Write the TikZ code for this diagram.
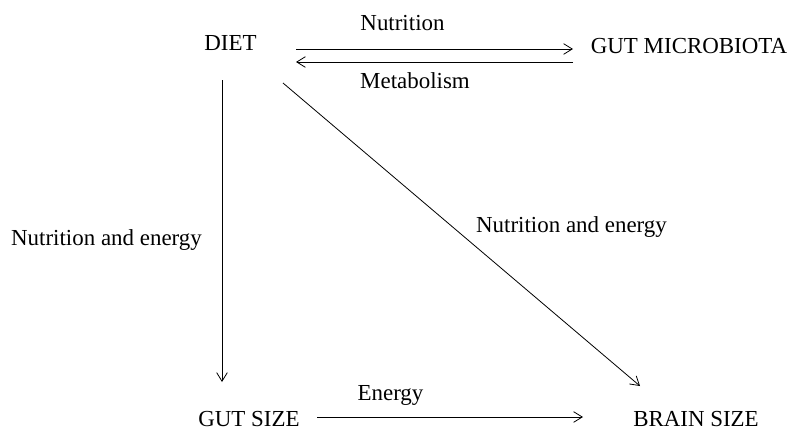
\documentclass[tikz,border=0pt]{standalone}
\usepackage{fontspec}
\setmainfont{Liberation Serif}
\usepackage{tikz}
\usetikzlibrary{arrows.meta,positioning,calc}
\tikzset{
    termo/.style={
        anchor=base,
        inner sep=0pt,
        font=\fontsize{17.2}{20}\selectfont
    },
    rotulo/.style={termo},
    ligacao/.style={-{Straight Barb[length=6.5pt,width=8pt]}, line width=0.6pt}
}

\begin{document}
\begin{tikzpicture}[x=0.75pt, y=-0.75pt]
        \useasboundingbox (0,0) rectangle (792,430);
        \node[termo] (diet) at (230.5,50) {DIET};
        \node[termo] (microbiota) at (689,53) {GUT MICROBIOTA};
        \node[termo] (gutsize) at (249,426) {GUT SIZE};
        \node[termo] (brainsize) at (696,426) {BRAIN SIZE};

        \node[rotulo] (nutricao) at (402.5,30) {Nutrition};
        \node[rotulo] (metabolismo) at (415,88) {Metabolism};
        \node[rotulo] (energiaEsq) at (106.5,245) {Nutrition and energy};
        \node[rotulo] (energiaDiag) at (571.5,232) {Nutrition and energy};
        \node[rotulo] (energia) at (390.5,400) {Energy};

        \draw[ligacao] ([shift={(65.5,-1)}]diet.base) -- ([shift={(-116,-4)}]microbiota.base);
        \draw[ligacao] ([shift={(-116,9)}]microbiota.base) -- ([shift={(65.5,12)}]diet.base);
        \draw[ligacao] ([shift={(-8.5,30)}]diet.base) -- ([shift={(-27,-44)}]gutsize.base);
        \draw[ligacao] ([shift={(52.5,33)}]diet.base) -- ([shift={(-56,-40)}]brainsize.base);
        \draw[ligacao] ([shift={(68,-9)}]gutsize.base) -- ([shift={(-113,-9)}]brainsize.base);
    \end{tikzpicture}
\end{document}
